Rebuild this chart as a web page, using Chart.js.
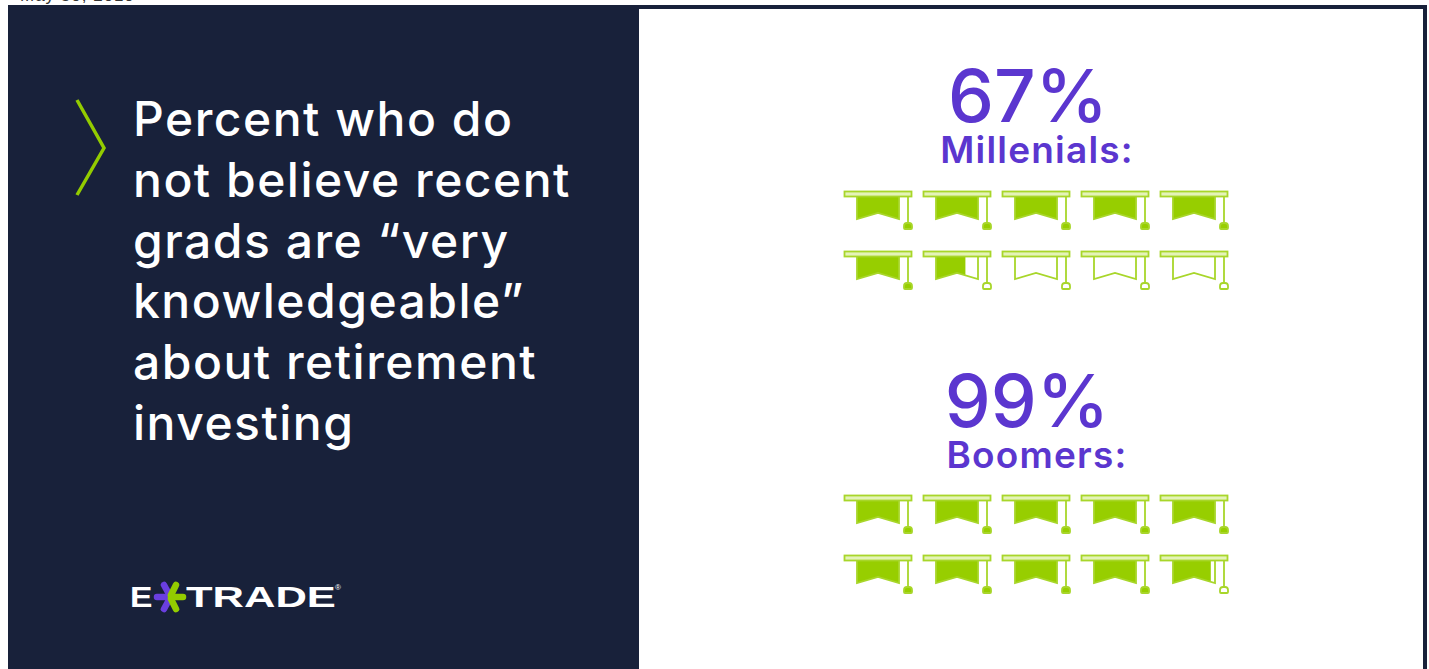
<!DOCTYPE html>
<html>
<head>
<meta charset="utf-8">
<title>Retirement knowledge</title>
<script src="https://cdn.jsdelivr.net/npm/chart.js@4"></script>
<style>
    html, body { margin: 0; padding: 0; background: #fff; }
    body { width: 1429px; height: 669px; position: relative; overflow: hidden; font-family: Inter, "Noto Sans", sans-serif; }
    #dateline { position: absolute; left: 20px; top: -14px; font: 17px "Liberation Sans", sans-serif; letter-spacing: 1px; color: #333; }
    #frame { position: absolute; left: 8px; top: 5px; width: 1419px; height: 664px; background: #18213a; }
    #sheet { position: absolute; left: 639px; top: 9px; width: 784px; height: 660px; background: #fff; }
    #chevron { position: absolute; left: 70px; top: 95px; }
    #heading { position: absolute; left: 133px; top: 89px; margin: 0; color: #fff; font-size: 48px; font-weight: 500; line-height: 60.8px; letter-spacing: 1.5px; white-space: nowrap; }
    #logo { position: absolute; left: 130px; top: 577px; height: 40px; width: 215px; color: #fff; font: bold 30px "Liberation Sans", sans-serif; line-height: 40px; }
    #logo span { position: absolute; top: 0; transform-origin: left center; white-space: nowrap; }
    #logo svg { position: absolute; left: 22px; top: 4px; }
    #logo small { position: absolute; left: 205px; top: -9px; font-size: 8px; font-weight: normal; }
    .pct, .group { position: absolute; color: #5b36cf; white-space: nowrap; transform: translateX(-50%); }
    .pct { font-size: 73px; font-weight: 500; line-height: 56px; }
    .group { font-size: 37px; font-weight: 600; line-height: 36px; letter-spacing: 1.2px; }
    .capChart { position: absolute; left: 830px; width: 410px; height: 120px; }
</style>
</head>
<body>
<div id="dateline">May 30, 2019</div>
<div id="frame"></div>
<div id="sheet"></div>

<svg id="chevron" width="40" height="105">
    <polyline points="7,5 34,53 7,100" fill="none" stroke="#93cc00" stroke-width="3.5"/>
</svg>
<h1 id="heading">Percent who do<br>not believe recent<br>grads are “very<br>knowledgeable”<br>about retirement<br>investing</h1>

<div id="logo">
    <span style="left:0; transform:scaleX(1.12)">E</span>
    <svg width="36" height="32" viewBox="-18 -16 36 32">
        <g stroke-width="6.5" stroke-linecap="round">
            <line x1="-13" y1="0" x2="1" y2="0" stroke="#6a3fe0"/>
            <line x1="-6" y1="-12" x2="0" y2="-1" stroke="#6a3fe0"/>
            <line x1="-6" y1="12" x2="0" y2="1" stroke="#6a3fe0"/>
            <line x1="1" y1="0" x2="13" y2="0" stroke="#93cc00"/>
            <line x1="6" y1="-12" x2="1" y2="-2" stroke="#93cc00"/>
            <line x1="6" y1="12" x2="1" y2="2" stroke="#93cc00"/>
        </g>
    </svg>
    <span style="left:56px; transform:scaleX(1.45)">TRADE</span>
    <small>®</small>
</div>

<div class="pct" style="left:1028px; top:68px">67%</div>
<div class="group" style="left:1037px; top:132px">Millenials:</div>
<div class="capChart" style="top:180px"><canvas id="millenialsChart" width="410" height="120"></canvas></div>

<div class="pct" style="left:1027px; top:373px">99%</div>
<div class="group" style="left:1037px; top:437px">Boomers:</div>
<div class="capChart" style="top:484px"><canvas id="boomersChart" width="410" height="120"></canvas></div>

<script>
const millenialsPercent = 67
const boomersPercent = 99
const percentPerCap = 10

const capColumns = [0, 1, 2, 3, 4, 0, 1, 2, 3, 4]
const capRows = [0, 0, 0, 0, 0, 1, 1, 1, 1, 1]

const green = "#97ce00"
const lineGreen = "#a8d62a"
const paleGreen = "#e4f3b8"

// one mortarboard, banner filled up to share (0..1) of its width
const makeCapIcon = (share) => {
    let c = document.createElement("canvas")
    c.width = 70
    c.height = 40
    let g = c.getContext("2d")

    const banner = () => {
        g.beginPath()
        g.moveTo(14, 6)
        g.lineTo(56, 6)
        g.lineTo(56, 29)
        g.lineTo(35, 23)
        g.lineTo(14, 29)
        g.closePath()
    }

    g.strokeStyle = lineGreen
    g.lineWidth = 1.8

    if (share > 0) {
        g.save()
        g.beginPath()
        g.rect(14, 6, 42 * share, 24)
        g.clip()
        banner()
        g.fillStyle = green
        g.fill()
        g.restore()
    }
    banner()
    g.stroke()

    // board on top
    g.fillStyle = paleGreen
    g.fillRect(1.5, 1.5, 67, 5)
    g.strokeRect(1.5, 1.5, 67, 5)

    // tassel, solid only on a full cap
    g.beginPath()
    g.moveTo(65, 6)
    g.lineTo(65, 33)
    g.stroke()
    g.beginPath()
    g.roundRect(61, 33, 8, 6, [3, 3, 1, 1])
    if (share >= 1) {
        g.fillStyle = green
        g.fill()
    }
    g.stroke()
    return c
}

// how full each cap is for a percentage
const capShares = (percent) => capColumns.map((_, i) => {
    let capsFull = Math.floor(percent / percentPerCap)
    if (i < capsFull) return 1
    if (i == capsFull) return (percent - capsFull * percentPerCap) / percentPerCap
    return 0
})

const drawCaps = (id, percent) => {
    let icons = capShares(percent).map(makeCapIcon)
    return new Chart(document.getElementById(id), {
        type: "scatter",
        data: {
            datasets: [{
                data: capColumns.map((col, i) => ({ x: col, y: capRows[i] })),
                pointStyle: (ctx) => icons[ctx.dataIndex],
                clip: false
            }]
        },
        options: {
            responsive: false,
            animation: false,
            layout: { padding: { left: 48, right: 46, top: 30, bottom: 30 } },
            plugins: { legend: { display: false }, tooltip: { enabled: false } },
            scales: {
                x: { display: false, min: 0, max: 4 },
                y: { display: false, min: 0, max: 1, reverse: true }
            }
        }
    })
}

drawCaps("millenialsChart", millenialsPercent)
drawCaps("boomersChart", boomersPercent)
</script>
</body>
</html>
